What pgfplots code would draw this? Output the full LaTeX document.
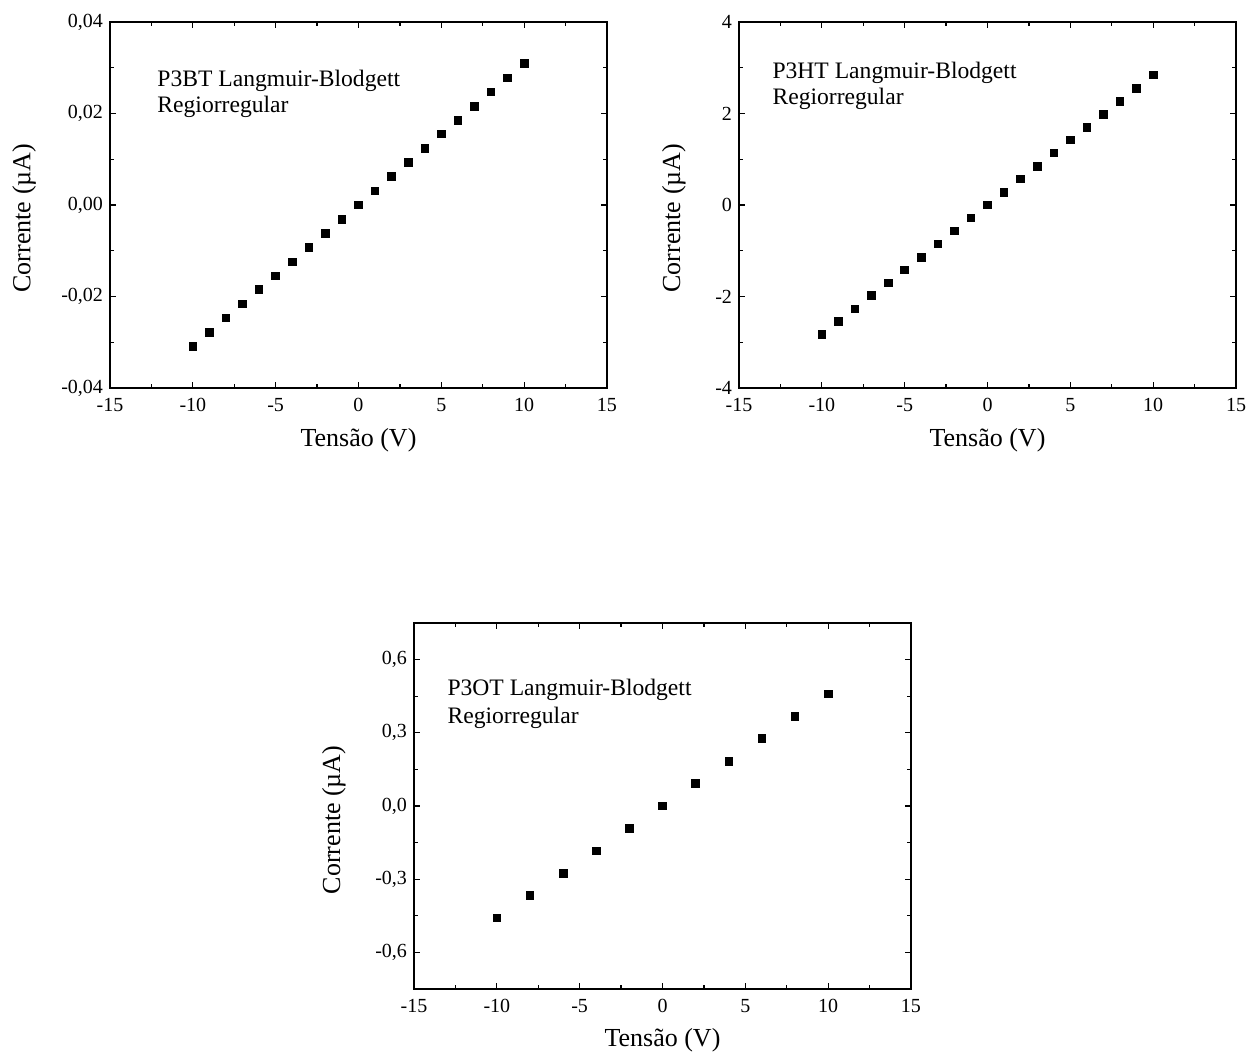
\documentclass[border=0pt]{standalone}
\usepackage{fontspec}
\setmainfont{Liberation Serif}
\usepackage{pgfplots}
\pgfplotsset{compat=1.18}

% common look of the three I-V panels
\pgfplotsset{
  ivpanel/.style={
    scale only axis, width=248.5pt, height=183pt,
    anchor=south west,
    xmin=-15, xmax=15, xtick={-15,-10,...,15},
    minor x tick num=1, minor y tick num=1,
    tick align=inside, xtick pos=both, ytick pos=both,
    major tick length=3pt, minor tick length=1.8pt,
    axis line style={line width=0.7pt}, every tick/.style={line width=0.6pt, black},
    ticklabel style={font=\fontsize{10}{12}\selectfont},
    xticklabel style={yshift=-1.5pt},
    label style={font=\fontsize{13}{15}\selectfont},
    /pgf/number format/assume math mode=true,
    /pgf/number format/use comma,
    scaled y ticks=false,
    xlabel={Tensão (V)}, ylabel={Corrente (µA)},
    xlabel style={at={(axis description cs:0.5,-0.161)}, anchor=base},
    clip=false,
  },
  pts/.style={only marks, mark=square*, mark size=1.9pt, black},
}

\begin{document}
\begin{tikzpicture}
\useasboundingbox (0pt,0pt) rectangle (624.5pt,528.5pt);

% P3BT
\begin{axis}[ivpanel, at={(55pt,334.5pt)},
  ymin=-0.04, ymax=0.04, ytick={-0.04,-0.02,0,0.02,0.04},
  yticklabel style={/pgf/number format/.cd, fixed, fixed zerofill, precision=2},
  ylabel style={at={(axis description cs:-0.173,0.464)}, anchor=center}]
\addplot[pts] coordinates {
 (-10,-0.0309) (-9,-0.0278) (-8,-0.0247) (-7,-0.0216) (-6,-0.0185) (-5,-0.0155)
 (-4,-0.0124) (-3,-0.0093) (-2,-0.0062) (-1,-0.0031) (0,0)
 (1,0.0031) (2,0.0062) (3,0.0093) (4,0.0124) (5,0.0155) (6,0.0185)
 (7,0.0216) (8,0.0247) (9,0.0278) (10,0.0310)};
\node[anchor=base west, font=\fontsize{11.8}{14}\selectfont, inner sep=0pt] at (axis cs:-12.16,0.0258) {P3BT Langmuir-Blodgett};
\node[anchor=base west, font=\fontsize{11.8}{14}\selectfont, inner sep=0pt] at (axis cs:-12.16,0.0203) {Regiorregular};
\end{axis}

% P3HT
\begin{axis}[ivpanel, at={(369.5pt,334.5pt)},
  ymin=-4, ymax=4, ytick={-4,-2,0,2,4},
  ylabel style={at={(axis description cs:-0.131,0.464)}, anchor=center}]
\addplot[pts] coordinates {
 (-10,-2.83) (-9,-2.55) (-8,-2.27) (-7,-1.98) (-6,-1.70) (-5,-1.42)
 (-4,-1.14) (-3,-0.85) (-2,-0.57) (-1,-0.28) (0,0)
 (1,0.28) (2,0.57) (3,0.85) (4,1.14) (5,1.42) (6,1.70)
 (7,1.98) (8,2.27) (9,2.55) (10,2.84)};
\node[anchor=base west, font=\fontsize{11.8}{14}\selectfont, inner sep=0pt] at (axis cs:-13.0,2.776) {P3HT Langmuir-Blodgett};
\node[anchor=base west, font=\fontsize{11.8}{14}\selectfont, inner sep=0pt] at (axis cs:-13.0,2.186) {Regiorregular};
\end{axis}

% P3OT
\begin{axis}[ivpanel, at={(207pt,34pt)},
  ymin=-0.75, ymax=0.75, ytick={-0.6,-0.3,0,0.3,0.6},
  minor ytick={-0.75,-0.45,-0.15,0.15,0.45,0.75}, minor y tick num=0,
  yticklabel style={/pgf/number format/.cd, fixed, fixed zerofill, precision=1},
  xlabel style={at={(axis description cs:0.5,-0.158)}, anchor=base},
  ylabel style={at={(axis description cs:-0.161,0.462)}, anchor=center}]
\addplot[pts] coordinates {
 (-10,-0.459) (-8,-0.367) (-6,-0.275) (-4,-0.184) (-2,-0.092) (0,0)
 (2,0.092) (4,0.184) (6,0.276) (8,0.367) (10,0.459)};
\node[anchor=base west, font=\fontsize{11.8}{14}\selectfont, inner sep=0pt] at (axis cs:-13.0,0.451) {P3OT Langmuir-Blodgett};
\node[anchor=base west, font=\fontsize{11.8}{14}\selectfont, inner sep=0pt] at (axis cs:-13.0,0.340) {Regiorregular};
\end{axis}
\end{tikzpicture}
\end{document}
